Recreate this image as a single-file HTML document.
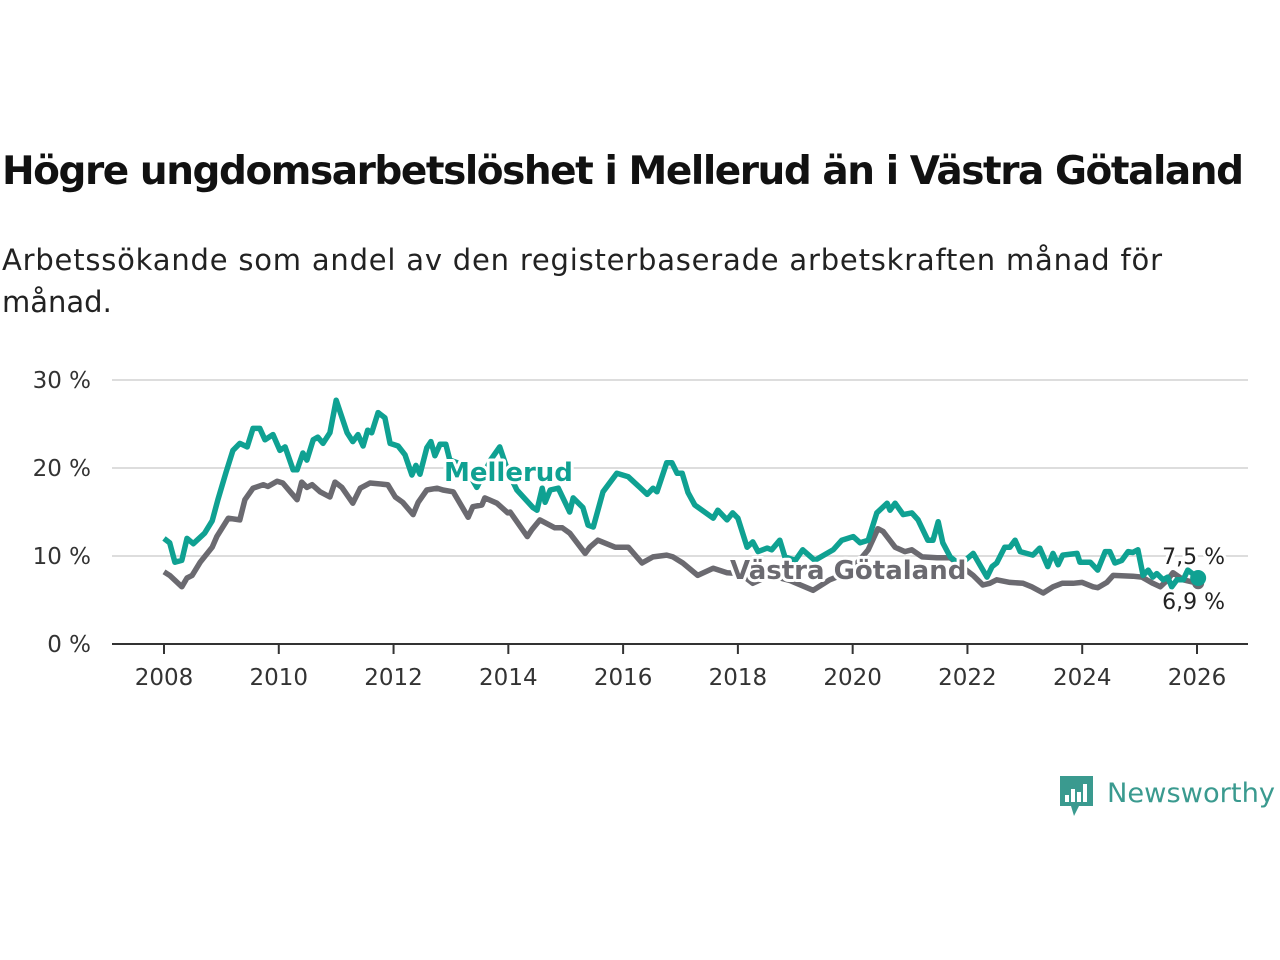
<!DOCTYPE html>
<html><head><meta charset="utf-8"><style>
body{margin:0;width:1280px;height:960px;background:#fff;overflow:hidden;font-family:"Liberation Sans","DejaVu Sans",sans-serif}
</style></head><body>
<svg width="1280" height="960" style="position:absolute;left:0;top:0">
<text x="2" y="184" font-size="39" font-weight="bold" fill="#111" font-family="DejaVu Sans, sans-serif" textLength="1242">Högre ungdomsarbetslöshet i Mellerud än i Västra Götaland</text>
<text x="2" y="270" font-size="29" fill="#222" font-family="DejaVu Sans, sans-serif" textLength="1160">Arbetssökande som andel av den registerbaserade arbetskraften månad för</text>
<text x="2" y="312" font-size="29" fill="#222" font-family="DejaVu Sans, sans-serif">månad.</text>
<g id="grid"></g><g id="axis"></g><g id="series"></g><g id="labels"></g>
<g>
<path d="M1060 776 h33 v30 h-14 l-5 10 l-3 -10 h-11 z" fill="#3a9a8f"/>
<rect x="1065" y="795" width="4" height="7" fill="#fff"/><rect x="1071" y="789" width="4" height="13" fill="#fff"/><rect x="1077" y="792" width="4" height="10" fill="#fff"/><rect x="1083" y="784" width="4" height="18" fill="#fff"/>
<text x="1107" y="802" font-size="27" fill="#3a9a8f" font-family="DejaVu Sans, sans-serif" textLength="168" lengthAdjust="spacingAndGlyphs">Newsworthy</text>
</g>
</svg>
<script>
const yTicks=[0,10,20,30];
const xTicks=[2008,2010,2012,2014,2016,2018,2020,2022,2024,2026];
const mYears=[0,.10,.19,.31,.40,.51,.71,.84,.94,1.08,1.20,1.32,1.45,1.55,1.67,1.76,1.90,2.02,2.11,2.25,2.32,2.42,2.49,2.60,2.68,2.77,2.89,3.00,3.19,3.29,3.38,3.47,3.55,3.62,3.73,3.85,3.94,4.08,4.20,4.32,4.39,4.46,4.58,4.65,4.72,4.81,4.91,4.98,5.15,5.30,5.45,5.70,5.85,6.00,6.15,6.43,6.50,6.59,6.64,6.73,6.87,7.07,7.13,7.30,7.39,7.48,7.65,7.89,8.09,8.29,8.42,8.52,8.59,8.76,8.85,8.94,9.03,9.13,9.25,9.57,9.65,9.81,9.91,10.00,10.16,10.26,10.35,10.51,10.59,10.73,10.82,11.00,11.13,11.34,11.66,11.81,12.01,12.13,12.27,12.42,12.60,12.65,12.74,12.88,13.03,13.14,13.31,13.40,13.49,13.57,13.70,13.87,14.10,14.34,14.43,14.51,14.65,14.74,14.83,14.92,15.14,15.26,15.40,15.49,15.58,15.66,15.91,15.96,16.14,16.27,16.40,16.48,16.57,16.69,16.80,16.88,16.97,17.06,17.15,17.23,17.30,17.41,17.49,17.56,17.65,17.76,17.84,18.02];
const mellerud=[12.0,11.5,9.3,9.5,12.0,11.4,12.6,14,16.4,19.5,22,22.8,22.4,24.5,24.5,23.2,23.8,22,22.4,19.8,19.8,21.7,20.9,23.2,23.5,22.8,24,27.7,24,23,23.8,22.5,24.3,24,26.3,25.7,22.8,22.5,21.5,19.2,20.3,19.3,22.3,23,21.4,22.7,22.7,20.9,20.5,19.5,17.8,21,22.4,19.5,17.5,15.5,15.2,17.7,16.1,17.5,17.7,15,16.6,15.5,13.5,13.3,17.3,19.4,19,17.8,17,17.7,17.3,20.6,20.6,19.4,19.4,17.2,15.8,14.3,15.2,14.1,14.9,14.3,11,11.6,10.5,10.9,10.7,11.8,9.9,9.5,10.7,9.5,10.7,11.8,12.2,11.5,11.8,14.9,16,15.2,16,14.7,14.9,14.1,11.8,11.8,13.9,11.5,9.9,9,10.3,7.6,8.8,9.2,11,11,11.8,10.5,10.1,10.9,8.8,10.3,9,10.1,10.3,9.3,9.3,8.4,10.5,10.5,9.2,9.5,10.5,10.4,10.7,7.8,8.4,7.6,8.0,7.3,7.6,6.5,7.3,7.3,8.4,7.5];
const vYears=[0,.10,.31,.40,.49,.63,.84,.92,1.12,1.32,1.41,1.55,1.73,1.81,1.97,2.07,2.20,2.32,2.40,2.49,2.58,2.72,2.89,2.98,3.10,3.29,3.42,3.59,3.90,4.03,4.16,4.34,4.43,4.58,4.76,4.86,5.04,5.30,5.38,5.54,5.59,5.80,5.99,6.03,6.33,6.41,6.55,6.81,6.94,7.07,7.34,7.42,7.56,7.86,8.09,8.33,8.52,8.76,8.87,9.04,9.30,9.57,9.81,10.04,10.26,10.56,10.91,11.31,11.60,11.95,12.27,12.44,12.53,12.74,12.91,13.03,13.21,13.47,13.70,14.10,14.27,14.39,14.51,14.74,14.97,15.12,15.32,15.49,15.65,15.84,16.00,16.19,16.27,16.43,16.54,16.88,17.04,17.23,17.36,17.49,17.58,17.76,18.02];
const vastra=[8.2,7.8,6.5,7.5,7.8,9.3,11,12.2,14.3,14.1,16.4,17.7,18.1,17.9,18.5,18.3,17.3,16.4,18.4,17.8,18.1,17.3,16.7,18.4,17.8,16,17.7,18.3,18.1,16.7,16.1,14.7,16.1,17.5,17.7,17.5,17.3,14.4,15.6,15.8,16.6,16,14.9,15,12.2,13,14.1,13.2,13.2,12.6,10.3,11,11.8,11,11,9.2,9.9,10.1,9.9,9.2,7.8,8.6,8.1,8.0,6.9,7.8,7.2,6.1,7.3,8.2,10.7,13.1,12.8,11,10.5,10.7,9.9,9.8,9.8,7.8,6.7,6.9,7.3,7.0,6.9,6.5,5.8,6.5,6.9,6.9,7.0,6.5,6.4,7.0,7.8,7.7,7.6,6.9,6.5,7.3,8.1,7.3,6.9];
const NS="http://www.w3.org/2000/svg";
const X=t=>164+t*(1197-164)/18, Y=v=>644-v*8.8;
function mk(tag,attrs,parent){const e=document.createElementNS(NS,tag);for(const k in attrs)e.setAttribute(k,attrs[k]);document.getElementById(parent).appendChild(e);return e;}
yTicks.forEach(v=>{
 const l=mk('line',{x1:112,x2:1248,y1:Y(v),y2:Y(v),stroke:v===0?'#333':'#ddd','stroke-width':2},'grid');
 
 
 const t=mk('text',{x:91,y:Y(v)+8,'text-anchor':'end','font-size':23,fill:'#333','font-family':'DejaVu Sans, sans-serif'},'axis');
 t.textContent=v+' %';
 
 
});
xTicks.forEach(yr=>{
 const x=X(yr-2008);
 const l=mk('line',{x1:x,x2:x,y1:644,y2:654,stroke:'#333','stroke-width':2},'axis');
 
 
 const t=mk('text',{x:x,y:685,'text-anchor':'middle','font-size':23,fill:'#333','font-family':'DejaVu Sans, sans-serif'},'axis');
 t.textContent=yr;
 
 
});
function line(xs,vs,col,name){
 const d=xs.map((t,i)=>(i?'L':'M')+X(t).toFixed(1)+' '+Y(vs[i]).toFixed(1)).join(' ');
 const p=mk('path',{d:d,fill:'none',stroke:col,'stroke-width':5.5,'stroke-linejoin':'round'},'series');
 
 
}
line(vYears,vastra,'#6b6a70','line-vastra-gotaland');
line(mYears,mellerud,'#0fa192','line-mellerud');
const d1=mk('circle',{cx:X(vYears[vYears.length-1]),cy:Y(vastra[vastra.length-1]),r:6,fill:'#6b6a70'},'series');


const d2=mk('circle',{cx:X(mYears[mYears.length-1]),cy:Y(mellerud[mellerud.length-1]),r:8,fill:'#0fa192'},'series');


function lbl(txt,x,y,col,size,w,name,anchor){
 const t=mk('text',{x:x,y:y,'font-size':size,'font-weight':w,fill:col,stroke:'#fff','stroke-width':6,'paint-order':'stroke','stroke-linejoin':'round','text-anchor':anchor||'start','font-family':'DejaVu Sans, sans-serif'},'labels');
 t.textContent=txt;
 
 
}
lbl('Mellerud',444,481,'#0fa192',26,'bold','label-mellerud');
lbl('Västra Götaland',730,579,'#6b6a70',26,'bold','label-vastra-gotaland');
lbl('7,5 %',1225,564,'#222',22,'normal','end-value-mellerud','end');
lbl('6,9 %',1225,609,'#222',22,'normal','end-value-vastra','end');
</script>
</body></html>
